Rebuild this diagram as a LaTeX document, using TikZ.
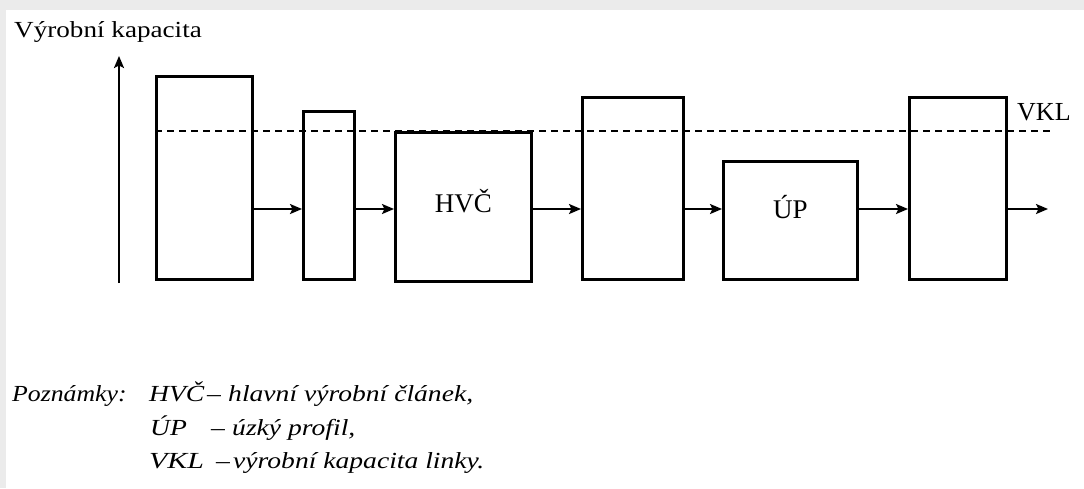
\documentclass[tikz,border=0pt]{standalone}
\usepackage{graphicx}
\usepackage{fontspec}
\setmainfont{Liberation Serif}
\usetikzlibrary{arrows.meta}
% slightly extended lettering
\newcommand\widetxt[2][1.2]{\scalebox{#1}[1]{#2}}
\begin{document}
\begin{tikzpicture}[x=1pt,y=-1pt,
  blk/.style={draw, line width=2.6pt, inner sep=0pt, anchor=north west},
  flow/.style={line width=2.2pt, -{Stealth[length=12pt,width=10pt,inset=2.5pt]}},
  lbl/.style={font=\fontsize{27}{29}\selectfont, anchor=base, inner sep=0pt},
  note/.style={font=\fontsize{23}{26}\selectfont\itshape, anchor=base west, inner sep=0pt}]
  % frame
  \fill[black!8] (0,0) rectangle (1084,488);
  \fill[white] (6,10) rectangle (1084,488);
  \useasboundingbox (0,0) rectangle (1084,488);

  % capacity axis
  \node[font=\fontsize{23}{26}\selectfont, anchor=base west, inner sep=0pt] (title) at (14,37) {\widetxt[1.18]{Výrobní kapacita}};
  \coordinate (ax0) at (119,283);
  \coordinate (ax1) at (119,56);
  \draw[line width=2.2pt, -{Stealth[length=12pt,width=10pt,inset=2.5pt]}] (ax0) -- (ax1);

  % workstations
  \node[blk, minimum width=96pt, minimum height=203pt] (b1) at (155,75) {};
  \node[blk, minimum width=51pt, minimum height=168pt] (b2) at (302,110) {};
  \node[blk, minimum width=136pt, minimum height=149pt] (b3) at (394,131) {};
  \node[blk, minimum width=101pt, minimum height=182pt] (b4) at (581,96) {};
  \node[blk, minimum width=134pt, minimum height=118pt] (b5) at (722,160) {};
  \node[blk, minimum width=97pt, minimum height=182pt] (b6) at (908,96) {};
  \node[lbl] (t3) at (b3.north |- 0,212) {HVČ};
  \node[lbl] (t5) at (b5.north |- 0,218) {ÚP};

  % line capacity level
  \coordinate (v0) at (155,131);
  \coordinate (v1) at (1050,131);
  \draw[line width=2.6pt, dash pattern=on 7pt off 5pt] (v0) -- (v1);
  \node[font=\fontsize{26}{28}\selectfont, anchor=base west, inner sep=0pt] (vkl) at (1017,120) {VKL};

  % material flow
  \coordinate (out) at (1048,209);
  \draw[flow] (b1.east |- 0,209) -- (b2.west |- 0,209);
  \draw[flow] (b2.east |- 0,209) -- (b3.west |- 0,209);
  \draw[flow] (b3.east |- 0,209) -- (b4.west |- 0,209);
  \draw[flow] (b4.east |- 0,209) -- (b5.west |- 0,209);
  \draw[flow] (b5.east |- 0,209) -- (b6.west |- 0,209);
  \draw[flow] (b6.east |- 0,209) -- (out);

  % notes
  \node[note] (n0) at (12,401) {\widetxt[1.12]{Poznámky:}};
  \node[note] (n1a) at (149,401) {\widetxt{HVČ}};
  \node[note] (n1b) at (207,401) {\widetxt{–}};
  \node[note] (n1c) at (228,401) {\widetxt{hlavní výrobní článek,}};
  \node[note] (n2a) at (150,435) {\widetxt{ÚP}};
  \node[note] (n2b) at (211,435) {\widetxt{–}};
  \node[note] (n2c) at (232,435) {\widetxt{úzký profil,}};
  \node[note] (n3a) at (149,468) {\widetxt[1.3]{VKL}};
  \node[note] (n3b) at (216,468) {\widetxt{–}};
  \node[note] (n3c) at (233,468) {\widetxt{výrobní kapacita linky.}};
\end{tikzpicture}
\end{document}
